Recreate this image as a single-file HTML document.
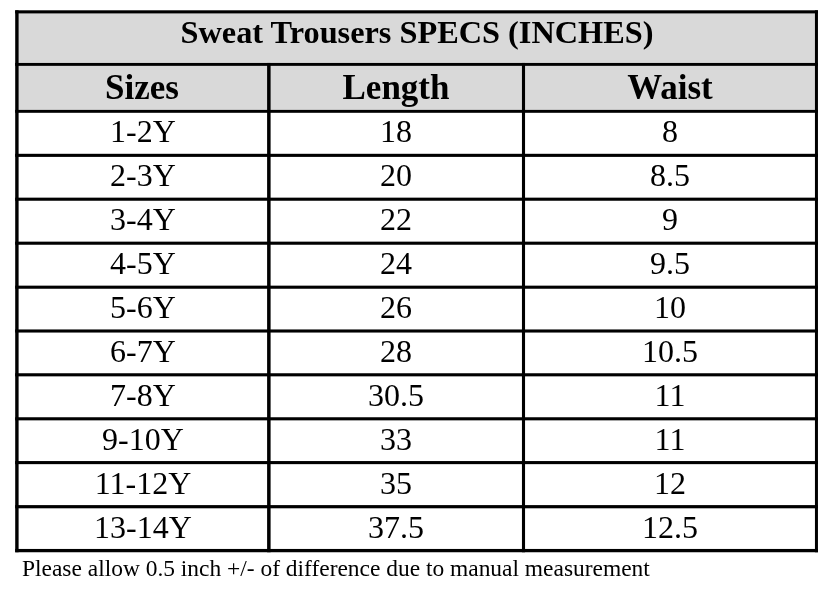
<!DOCTYPE html>
<html><head><meta charset="utf-8"><style>
html,body{margin:0;padding:0;background:#fff;width:828px;height:604px;overflow:hidden}
body{position:relative;font-family:"Liberation Serif",serif;color:#000;-webkit-font-smoothing:antialiased}
.t,.foot{will-change:transform}
svg{position:absolute;left:0;top:0}
.t{position:absolute;white-space:nowrap;line-height:1;transform:translateX(-50%)}
.b{font-weight:bold}
.foot{position:absolute;left:22px;top:556.8px;font-size:23.45px;line-height:1;white-space:nowrap;color:#000}
</style></head><body>
<svg width="828" height="604" viewBox="0 0 828 604">
<rect x="16.9" y="11.85" width="799.5500000000001" height="99.5" fill="#d9d9d9"/>
<rect x="15.2" y="10.30" width="802.75" height="3.1" fill="#000"/>
<rect x="15.2" y="62.95" width="802.75" height="2.9" fill="#000"/>
<rect x="15.2" y="109.90" width="802.75" height="2.9" fill="#000"/>
<rect x="15.2" y="153.80" width="802.75" height="3.1" fill="#000"/>
<rect x="15.2" y="197.65" width="802.75" height="3.1" fill="#000"/>
<rect x="15.2" y="241.65" width="802.75" height="3.1" fill="#000"/>
<rect x="15.2" y="285.65" width="802.75" height="3.1" fill="#000"/>
<rect x="15.2" y="329.45" width="802.75" height="3.1" fill="#000"/>
<rect x="15.2" y="373.25" width="802.75" height="3.1" fill="#000"/>
<rect x="15.2" y="417.25" width="802.75" height="3.1" fill="#000"/>
<rect x="15.2" y="461.05" width="802.75" height="3.1" fill="#000"/>
<rect x="15.2" y="505.10" width="802.75" height="3.2" fill="#000"/>
<rect x="15.2" y="548.95" width="802.75" height="3.3" fill="#000"/>
<rect x="15.20" y="10.30" width="3.4" height="541.95" fill="#000"/>
<rect x="267.10" y="62.95" width="3.5" height="489.30" fill="#000"/>
<rect x="521.95" y="62.95" width="3.1" height="489.30" fill="#000"/>
<rect x="814.95" y="10.30" width="3.0" height="541.95" fill="#000"/>
</svg>
<div class="t b" style="left:416.5px;top:15.5px;font-size:32.3px">Sweat Trousers SPECS (INCHES)</div>
<div class="t b" style="left:142.4px;top:69.5px;font-size:35px">Sizes</div>
<div class="t b" style="left:396.2px;top:69.5px;font-size:35px">Length</div>
<div class="t b" style="left:670.1px;top:69.5px;font-size:35px">Waist</div>
<div class="t" style="left:143.4px;top:115.0px;font-size:32px">1-2Y</div>
<div class="t" style="left:396.3px;top:115.0px;font-size:32px">18</div>
<div class="t" style="left:670.0px;top:115.0px;font-size:32px">8</div>
<div class="t" style="left:143.4px;top:159.0px;font-size:32px">2-3Y</div>
<div class="t" style="left:396.3px;top:159.0px;font-size:32px">20</div>
<div class="t" style="left:670.0px;top:159.0px;font-size:32px">8.5</div>
<div class="t" style="left:143.4px;top:203.0px;font-size:32px">3-4Y</div>
<div class="t" style="left:396.3px;top:203.0px;font-size:32px">22</div>
<div class="t" style="left:670.0px;top:203.0px;font-size:32px">9</div>
<div class="t" style="left:143.4px;top:247.0px;font-size:32px">4-5Y</div>
<div class="t" style="left:396.3px;top:247.0px;font-size:32px">24</div>
<div class="t" style="left:670.0px;top:247.0px;font-size:32px">9.5</div>
<div class="t" style="left:143.4px;top:291.0px;font-size:32px">5-6Y</div>
<div class="t" style="left:396.3px;top:291.0px;font-size:32px">26</div>
<div class="t" style="left:670.0px;top:291.0px;font-size:32px">10</div>
<div class="t" style="left:143.4px;top:335.0px;font-size:32px">6-7Y</div>
<div class="t" style="left:396.3px;top:335.0px;font-size:32px">28</div>
<div class="t" style="left:670.0px;top:335.0px;font-size:32px">10.5</div>
<div class="t" style="left:143.4px;top:379.0px;font-size:32px">7-8Y</div>
<div class="t" style="left:396.3px;top:379.0px;font-size:32px">30.5</div>
<div class="t" style="left:670.0px;top:379.0px;font-size:32px">11</div>
<div class="t" style="left:143.4px;top:423.0px;font-size:32px">9-10Y</div>
<div class="t" style="left:396.3px;top:423.0px;font-size:32px">33</div>
<div class="t" style="left:670.0px;top:423.0px;font-size:32px">11</div>
<div class="t" style="left:143.4px;top:467.0px;font-size:32px">11-12Y</div>
<div class="t" style="left:396.3px;top:467.0px;font-size:32px">35</div>
<div class="t" style="left:670.0px;top:467.0px;font-size:32px">12</div>
<div class="t" style="left:143.4px;top:511.0px;font-size:32px">13-14Y</div>
<div class="t" style="left:396.3px;top:511.0px;font-size:32px">37.5</div>
<div class="t" style="left:670.0px;top:511.0px;font-size:32px">12.5</div>
<div class="foot">Please allow 0.5 inch +/- of difference due to manual measurement</div>
</body></html>
